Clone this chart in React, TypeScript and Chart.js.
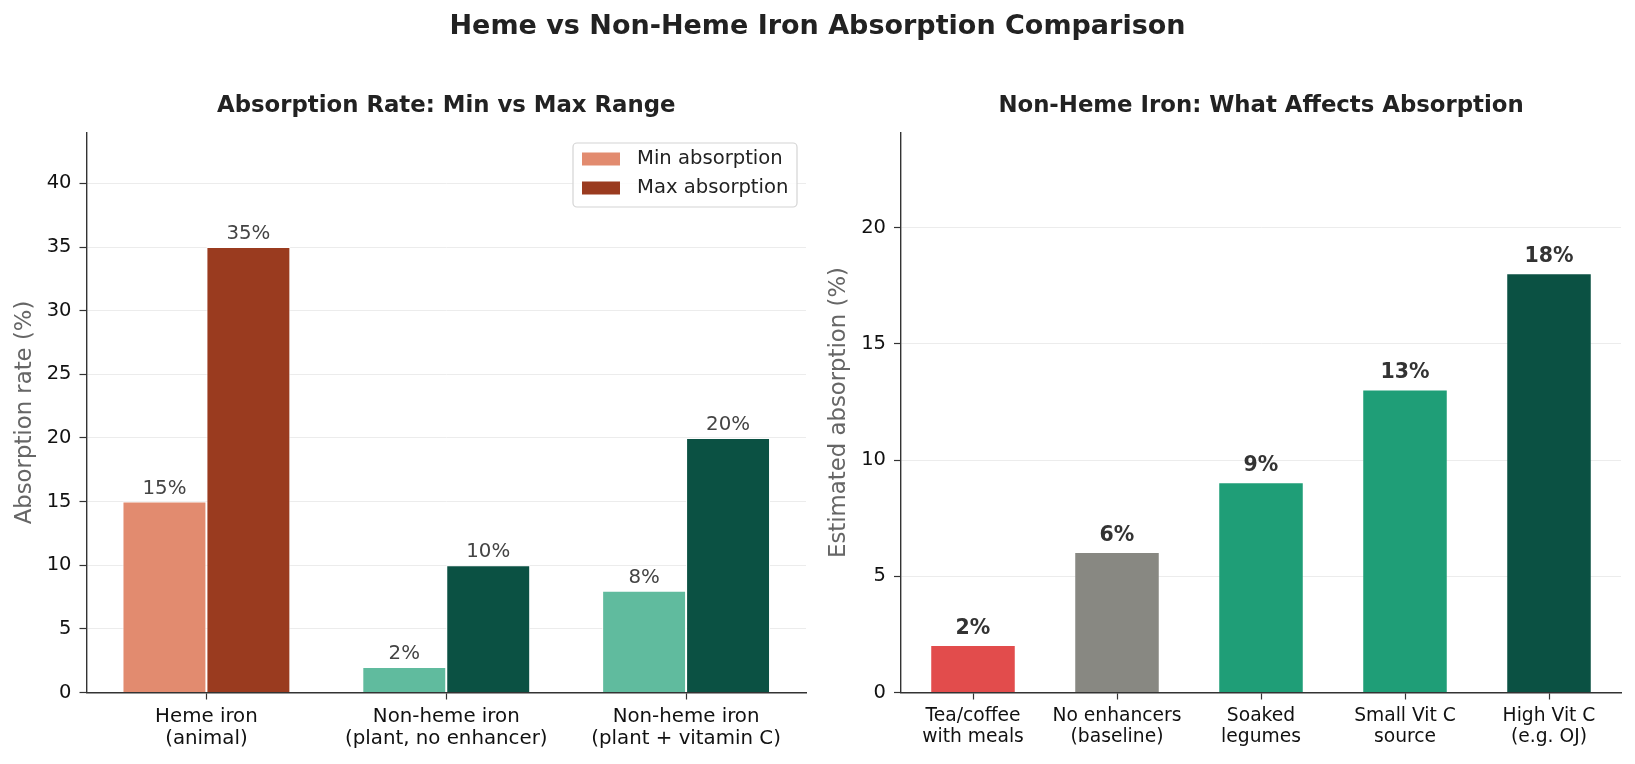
import { useEffect, useRef } from 'react';
import { Chart, registerables, ChartConfiguration, Plugin } from 'chart.js';

Chart.register(...registerables);

const FONT = "'DejaVu Sans', sans-serif";

// Left panel data
const RANGE_CATEGORIES = [
  ['Heme iron', '(animal)'],
  ['Non-heme iron', '(plant, no enhancer)'],
  ['Non-heme iron', '(plant + vitamin C)'],
];
const MIN_ABSORPTION = [15, 2, 8];
const MAX_ABSORPTION = [35, 10, 20];
const MIN_COLORS = ['#e28b6f', '#60bb9e', '#60bb9e'];
const MAX_COLORS = ['#9a3b1f', '#0b5143', '#0b5143'];

// Right panel data
const FACTOR_CATEGORIES = [
  ['Tea/coffee', 'with meals'],
  ['No enhancers', '(baseline)'],
  ['Soaked', 'legumes'],
  ['Small Vit C', 'source'],
  ['High Vit C', '(e.g. OJ)'],
];
const FACTOR_VALUES = [2, 6, 9, 13, 18];
const FACTOR_COLORS = ['#e24c4c', '#888882', '#1f9e77', '#1f9e77', '#0b5143'];

const W = 1635;
const H = 764;
const AXIS_BOTTOM = 692.5;
const AXIS_TOP = 132.5;

function drawText(ctx: CanvasRenderingContext2D, text: string, x: number, y: number, font: string, color: string, align: CanvasTextAlign = 'center', baseline: CanvasTextBaseline = 'middle') {
  ctx.save();
  ctx.font = font;
  ctx.fillStyle = color;
  ctx.textAlign = align;
  ctx.textBaseline = baseline;
  ctx.fillText(text, x, y);
  ctx.restore();
}

function drawYLabel(ctx: CanvasRenderingContext2D, text: string, x: number, y: number) {
  ctx.save();
  ctx.translate(x, y);
  ctx.rotate(-Math.PI / 2);
  ctx.font = `22.8px ${FONT}`;
  ctx.fillStyle = '#666666';
  ctx.textAlign = 'center';
  ctx.textBaseline = 'middle';
  ctx.fillText(text, 0, 0);
  ctx.restore();
}

function valueLabels(font: string, color: string, gap: number): Plugin<'bar'>['afterDatasetsDraw'] {
  return (chart) => {
    const ctx = chart.ctx;
    chart.data.datasets.forEach((ds, i) => {
      const meta = chart.getDatasetMeta(i);
      meta.data.forEach((el: any, j) => {
        drawText(ctx, `${ds.data[j]}%`, el.x, el.y - gap, font, color, 'center', 'alphabetic');
      });
    });
  };
}

const leftDecor: Plugin<'bar'> = {
  id: 'leftDecor',
  afterDatasetsDraw: valueLabels(`19.8px ${FONT}`, '#444444', 8),
  afterDraw(chart) {
    const ctx = chart.ctx;
    const area = chart.chartArea;
    drawText(ctx, 'Heme vs Non-Heme Iron Absorption Comparison', W / 2, 27, `bold 27px ${FONT}`, '#222222');
    drawText(ctx, 'Absorption Rate: Min vs Max Range', (area.left + area.right) / 2, 106.5, `bold 22.8px ${FONT}`, '#222222');
    drawYLabel(ctx, 'Absorption rate (%)', 25, (area.top + area.bottom) / 2);

    // legend box
    const bx = 573, by = 143, bw = 224, bh = 64;
    ctx.save();
    ctx.beginPath();
    ctx.roundRect(bx, by, bw, bh, 4);
    ctx.fillStyle = 'rgba(255,255,255,0.85)';
    ctx.fill();
    ctx.strokeStyle = '#d4d4d4';
    ctx.lineWidth = 1.2;
    ctx.stroke();
    ctx.restore();
    chart.data.datasets.forEach((ds, i) => {
      const cy = 159 + i * 29;
      const colors = ds.backgroundColor as string[];
      ctx.fillStyle = colors[0];
      ctx.fillRect(582, cy - 6.5, 38, 13);
      drawText(ctx, ds.label || '', 637, cy, `19.6px ${FONT}`, '#222222', 'left');
    });
  },
};

const rightDecor: Plugin<'bar'> = {
  id: 'rightDecor',
  afterDatasetsDraw: valueLabels(`bold 20.5px ${FONT}`, '#333333', 12),
  afterDraw(chart) {
    const ctx = chart.ctx;
    const area = chart.chartArea;
    drawText(ctx, 'Non-Heme Iron: What Affects Absorption', (area.left + area.right) / 2, 106.5, `bold 22.8px ${FONT}`, '#222222');
    drawYLabel(ctx, 'Estimated absorption (%)', 839, (area.top + area.bottom) / 2);
  },
};

function axes(left: number, yMax: number, xFont: number) {
  return {
    x: {
      type: 'category' as const,
      offset: true,
      afterFit: (scale: any) => { scale.height = H - AXIS_BOTTOM; },
      grid: { drawOnChartArea: false, drawTicks: true, tickLength: 7, tickColor: '#333333', tickWidth: 1.2, offset: false },
      border: { display: true, color: '#333333', width: 1.4 },
      ticks: { color: '#111111', padding: 6, font: { family: FONT, size: xFont, lineHeight: 1.12 }, maxRotation: 0, autoSkip: false },
    },
    y: {
      min: 0,
      max: yMax,
      afterFit: (scale: any) => { scale.width = left; },
      grid: { color: '#ececec', lineWidth: 1, drawTicks: true, tickLength: 7, tickColor: '#333333', tickWidth: 1.2 },
      border: { display: true, color: '#333333', width: 1.4 },
      ticks: { stepSize: 5, includeBounds: false, color: '#111111', padding: 8, font: { family: FONT, size: 19.5 } },
    },
  };
}

function ChartCanvas({ build }: { build: () => ChartConfiguration<'bar'> }) {
  const ref = useRef<HTMLCanvasElement>(null);
  useEffect(() => {
    if (!ref.current) return;
    const chart = new Chart(ref.current, build());
    return () => chart.destroy();
  }, [build]);
  return (
    <canvas
      ref={ref}
      width={W}
      height={H}
      style={{ position: 'absolute', left: 0, top: 0, width: W, height: H }}
    />
  );
}

const buildLeft = (): ChartConfiguration<'bar'> => ({
  type: 'bar',
  data: {
    labels: RANGE_CATEGORIES,
    datasets: [
      {
        label: 'Min absorption',
        data: MIN_ABSORPTION,
        backgroundColor: MIN_COLORS,
        borderColor: '#ffffff',
        borderWidth: 1,
        categoryPercentage: 0.7,
        barPercentage: 1,
      },
      {
        label: 'Max absorption',
        data: MAX_ABSORPTION,
        backgroundColor: MAX_COLORS,
        borderColor: '#ffffff',
        borderWidth: 1,
        categoryPercentage: 0.7,
        barPercentage: 1,
      },
    ],
  },
  options: {
    responsive: false,
    animation: false,
    layout: { padding: { left: 0, right: W - 806, top: AXIS_TOP, bottom: 0 } },
    plugins: { legend: { display: false }, tooltip: { enabled: false }, title: { display: false } },
    scales: axes(86.5, 44, 19.8),
  },
  plugins: [leftDecor],
});

const buildRight = (): ChartConfiguration<'bar'> => ({
  type: 'bar',
  data: {
    labels: FACTOR_CATEGORIES,
    datasets: [
      {
        label: 'Estimated absorption',
        data: FACTOR_VALUES,
        backgroundColor: FACTOR_COLORS,
        categoryPercentage: 1,
        barPercentage: 0.58,
      },
    ],
  },
  options: {
    responsive: false,
    animation: false,
    layout: { padding: { left: 901 - 74, right: W - 1621, top: AXIS_TOP, bottom: 0 } },
    plugins: { legend: { display: false }, tooltip: { enabled: false }, title: { display: false } },
    scales: axes(74, 24.1, 18.7),
  },
  plugins: [rightDecor],
});

export default function App() {
  return (
    <div style={{ position: 'absolute', left: 0, top: 0, width: W, height: H, background: '#ffffff' }}>
      <ChartCanvas build={buildLeft} />
      <ChartCanvas build={buildRight} />
    </div>
  );
}
